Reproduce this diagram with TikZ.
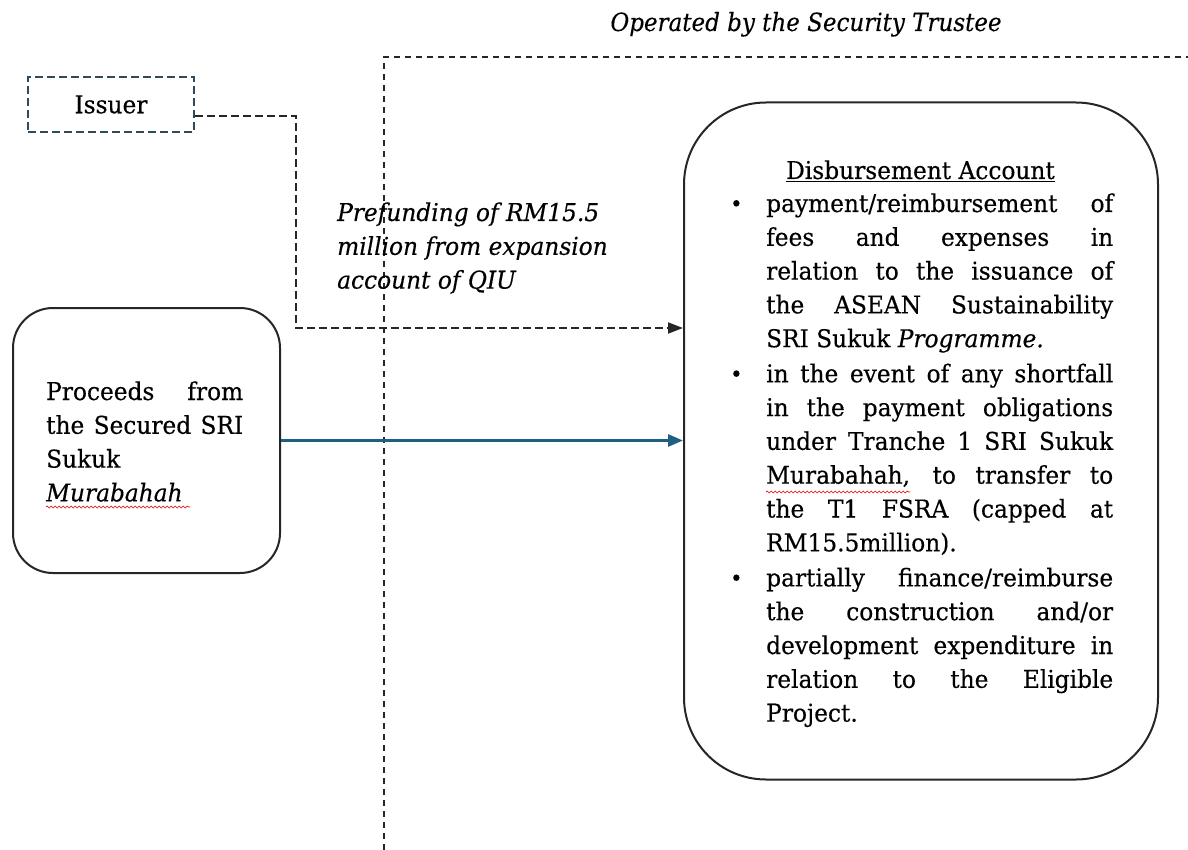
\documentclass[tikz,border=0pt]{standalone}
\usepackage{fontspec}
\setmainfont{DejaVu Serif}[FakeStretch=0.95,FakeBold=0.35]
\newfontfamily\notefont{DejaVu Serif}[FakeStretch=0.92,FakeBold=0.3]
\usetikzlibrary{arrows.meta,decorations.pathmorphing,calc}
\definecolor{slate}{HTML}{2F4A58}
\definecolor{flowblue}{HTML}{1F5F86}
\newcommand\jline[2]{\makebox[#1][s]{#2}}
\newcommand\bodyfont{\fontsize{24.5}{33.8}\selectfont}
\newcommand\itemdot{\makebox[36pt][l]{\raisebox{0.5pt}{\fontsize{22}{24}\selectfont\textbullet}}}
\begin{document}
\begin{tikzpicture}[x=1pt,y=-1pt,
  roundbox/.style={draw=black!85,line width=2pt,inner sep=0pt},
  issuerbox/.style={draw=slate,line width=1.9pt,dash pattern=on 8pt off 4pt,inner sep=0pt,
    minimum width=166pt,minimum height=55pt,font=\bodyfont},
  dashlink/.style={draw=black!85,line width=1.8pt,dash pattern=on 8pt off 4pt,
    -{Triangle[length=15pt,width=11pt]}},
  trustline/.style={draw=black!85,line width=1.7pt,dash pattern=on 6pt off 5pt},
  flowlink/.style={draw=flowblue,line width=2.8pt,-{Triangle[length=15pt,width=12pt]}},
  txt/.style={inner sep=0pt,anchor=base west},
  spell/.style={draw=red!85!black,line width=0.6pt,decorate,
    decoration={snake,amplitude=1pt,segment length=4pt}}]
\useasboundingbox (0,0) rectangle (1188,850);

% boxes
\node[issuerbox] (issuer) at (111,104.5) {Issuer};
\node[roundbox,minimum width=267pt,minimum height=265pt,rounded corners=40pt] (proc) at (146.5,440.5) {};
\node[roundbox,minimum width=474pt,minimum height=677pt,rounded corners=82pt] (disb) at (921,441) {};

% region operated by the security trustee
\coordinate (trB) at (384,850);
\coordinate (trE) at (1188,57);
\draw[trustline] (trB) |- (trE);
\node[inner sep=0pt,anchor=base] (optxt) at (806,31)
  {\notefont\fontsize{25}{28}\selectfont\itshape Operated by the Security Trustee};

% prefunding link
\coordinate (iss-out) at ($(issuer.east)+(0,11.5)$);
\coordinate (bend) at (296,328);
\draw[dashlink] (iss-out) -| (bend) -- (disb.west |- bend);
\node[txt] (pretxt) at (337,221) {\parbox[t]{300pt}{\bodyfont\itshape
  Prefunding of RM15.5\\
  million from expansion\\
  account of QIU}};

% proceeds flow
\draw[flowlink] (proc.east) -- (disb.west |- proc.east);
\node[txt] (proctxt) at (46,400) {\parbox[t]{200pt}{\bodyfont
  \jline{197pt}{Proceeds from}\\
  \jline{197pt}{the Secured SRI}\\
  Sukuk\\
  \textit{Murabahah}}};
\draw[spell] (46,507) -- (190,507);

% disbursement account contents
\node[inner sep=0pt,anchor=base] (dtitle) at (920.5,179) {\bodyfont\underline{Disbursement Account}};
\node[txt] (dtxt) at (730,212) {\parbox[t]{390pt}{\bodyfont
  \itemdot\jline{347pt}{payment/reimbursement of}\\
  \hspace*{36pt}\jline{347pt}{fees and expenses in}\\
  \hspace*{36pt}\jline{347pt}{relation to the issuance of}\\
  \hspace*{36pt}\jline{347pt}{the ASEAN Sustainability}\\
  \hspace*{36pt}SRI Sukuk \textit{Programme.}\\[1.3pt]
  \itemdot\jline{347pt}{in the event of any shortfall}\\
  \hspace*{36pt}\jline{347pt}{in the payment obligations}\\
  \hspace*{36pt}\jline{347pt}{under Tranche 1 SRI Sukuk}\\
  \hspace*{36pt}\jline{347pt}{Murabahah, to transfer to}\\
  \hspace*{36pt}\jline{347pt}{the T1 FSRA (capped at}\\
  \hspace*{36pt}RM15.5million).\\[1.3pt]
  \itemdot\jline{347pt}{partially finance/reimburse}\\
  \hspace*{36pt}\jline{347pt}{the construction and/or}\\
  \hspace*{36pt}\jline{347pt}{development expenditure in}\\
  \hspace*{36pt}\jline{347pt}{relation to the Eligible}\\
  \hspace*{36pt}Project.}};
\draw[spell] (766,492) -- (910,492);
\end{tikzpicture}
\end{document}
